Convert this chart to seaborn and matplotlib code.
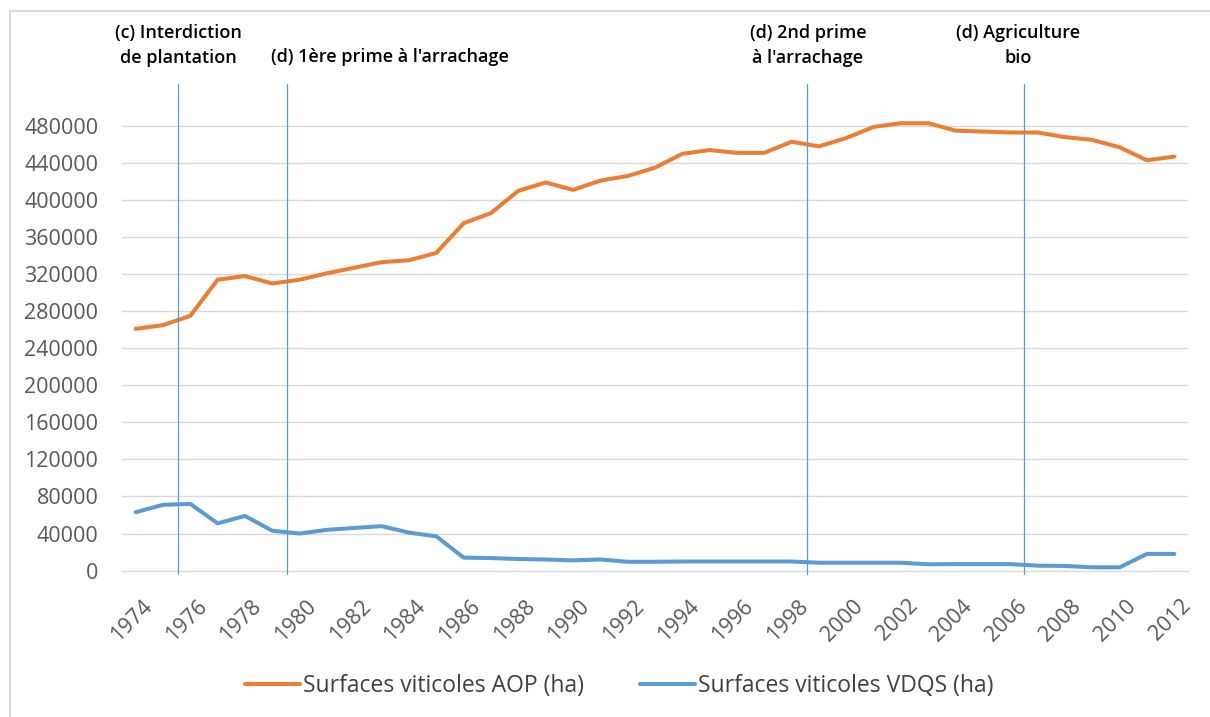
import pandas as pd
import numpy as np
import matplotlib
matplotlib.use("Agg")
import matplotlib.pyplot as plt
import matplotlib.transforms as mtransforms
from matplotlib.lines import Line2D
import seaborn as sns

# years on the category axis
years = list(range(1974, 2013))

# surfaces AOP (ha)
aop = [261000, 265000, 275000, 314000, 318000, 310000, 314000, 321000, 327000, 333000,
       335000, 343000, 375000, 386000, 410000, 419000, 411000, 421000, 426000, 435000,
       450000, 454000, 451000, 451000, 463000, 458000, 467000, 479000, 483000, 483000,
       475000, 474000, 473000, 473000, 468000, 465000, 457000, 443000, 447000]

# surfaces VDQS (ha)
vdqs = [63000, 71000, 72000, 51000, 59000, 43000, 40000, 44000, 46000, 48000,
        41000, 37000, 14000, 13500, 12500, 12000, 11000, 12000, 9500, 9500,
        9800, 9800, 9800, 9800, 9800, 8500, 8500, 8500, 8500, 6800,
        7000, 7000, 7000, 5300, 5000, 3500, 3500, 18000, 18000]

series_names = ["Surfaces viticoles AOP (ha)", "Surfaces viticoles VDQS (ha)"]
colors = ["#ED7D31", "#5B9BD5"]

# policy events (vertical lines) and their labels
event_years = [1975.55, 1979.55, 1998.55, 2006.5]
event_labels = ["(c) Interdiction\nde plantation", "(d) 1ère prime à l'arrachage",
                "(d) 2nd prime\nà l'arrachage", "(d) Agriculture\nbio"]
label_x = [1975.55, 1983.3, 1998.6, 2006.3]

y_ticks = list(range(0, 480001, 40000))

df = pd.DataFrame({
    "year": years * 2,
    "value": aop + vdqs,
    "serie": [series_names[0]] * len(years) + [series_names[1]] * len(years),
})

sns.set_theme(style="white")
plt.rcParams["font.family"] = ["Open Sans", "DejaVu Sans"]

fig = plt.figure(figsize=(12.1, 7.17), dpi=100)
ax = fig.add_axes([0.1008, 0.2042, 0.8810, 0.6782])

sns.lineplot(data=df, x="year", y="value", hue="serie", palette=colors,
             linewidth=2.9, ax=ax, legend=False)

ax.set_xlim(1973.5, 2012.5)
ax.set_ylim(0, 525000)
ax.set_xlabel("")
ax.set_ylabel("")

# gridlines
for v in y_ticks[1:]:
    ax.axhline(v, color="#D9D9D9", lw=1.0, zorder=0)

ax.set_yticks(y_ticks)
ax.set_yticklabels([str(v) for v in y_ticks], fontsize=15.5, color="#595959")
ax.set_xticks(years[::2])
ax.set_xticklabels([str(y) for y in years[::2]], fontsize=15.5, color="#595959",
                   rotation=45, ha="right", rotation_mode="anchor")
ax.set_xticks(np.arange(1973.5, 2012, 2), minor=True)
ax.tick_params(axis="x", which="major", length=0, pad=10)
ax.tick_params(axis="x", which="minor", length=5, direction="in", color="#D9D9D9", width=1)
ax.tick_params(axis="y", length=0, pad=17)

# nudge rotated year labels like the original
shift = mtransforms.ScaledTranslation(6 / 100, -11 / 100, fig.dpi_scale_trans)
for lab in ax.get_xticklabels():
    lab.set_transform(lab.get_transform() + shift)

for s in ["top", "right", "left"]:
    ax.spines[s].set_visible(False)
ax.spines["bottom"].set_color("#D9D9D9")
ax.spines["bottom"].set_linewidth(1.0)

# events
for x in event_years:
    ax.axvline(x, ymin=-0.006, ymax=1.0, color="#5B9BD5", lw=0.9, clip_on=False, zorder=3)
for x, lab in zip(label_x, event_labels):
    yy = 1.08 if "\n" in lab else 1.056
    ax.text(x, yy, lab, transform=ax.get_xaxis_transform(), ha="center", va="center",
            fontsize=13, fontweight="semibold", color="#000000", linespacing=1.45)

handles = [Line2D([0], [0], color=c, lw=2.9) for c in colors]
fig.legend(handles, series_names, loc="center", bbox_to_anchor=(0.512, 0.043), ncol=2,
           frameon=False, fontsize=16.5, handlelength=2.4, handletextpad=0.13,
           columnspacing=2.45, labelcolor="#404040")

# chart frame
fig.add_artist(Line2D([10 / 1210, 1], [1 - 11 / 717, 1 - 11 / 717], color="#D9D9D9", lw=1.5))
fig.add_artist(Line2D([10 / 1210, 10 / 1210], [0, 1 - 11 / 717], color="#D9D9D9", lw=1.5))

fig.savefig("out.png", dpi=100, facecolor="white")
